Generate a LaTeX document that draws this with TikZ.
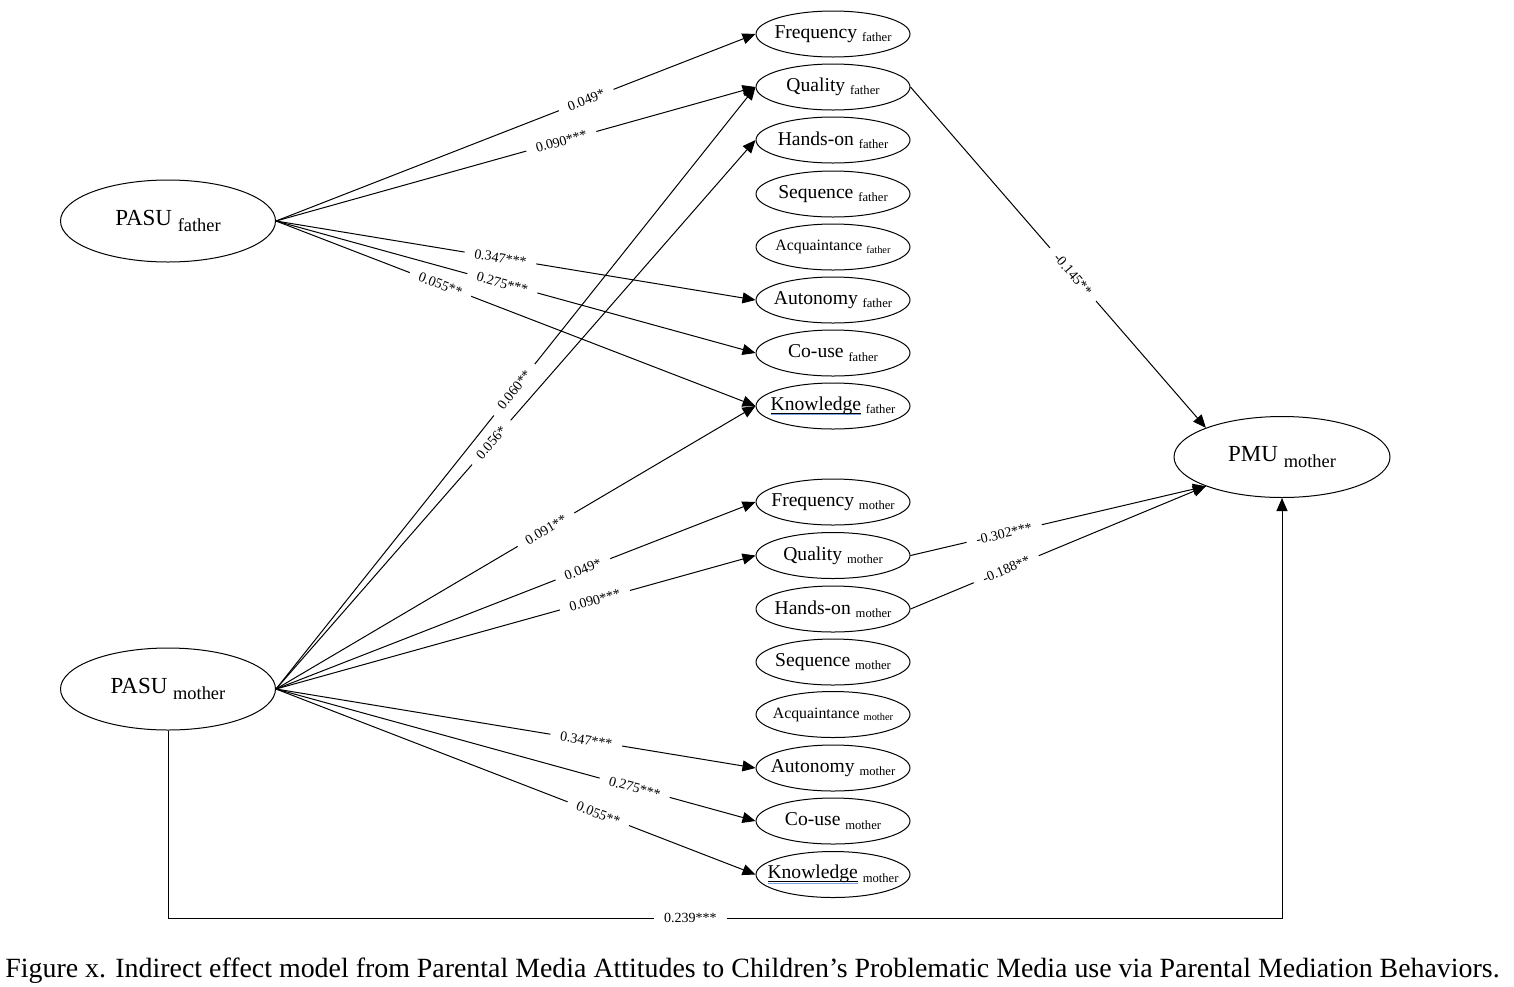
\documentclass[tikz,border=0pt]{standalone}
\usepackage{fontspec}
\setmainfont{Liberation Serif}
\usepackage{graphicx}
\usetikzlibrary{arrows.meta,shapes.geometric}
\definecolor{ulblue}{RGB}{120,160,230}
\newsavebox\kbox
\newcommand\kunder[1]{\sbox\kbox{#1}\leavevmode\rlap{\raisebox{-1.5pt}{\rule{\wd\kbox}{0.3pt}}}\rlap{\color{ulblue}\raisebox{-2.5pt}{\rule{\wd\kbox}{0.6pt}}}\usebox\kbox}
\newcommand\med[2]{\makebox[0pt]{\fontsize{9.8}{11}\selectfont #1\ \raisebox{-1.6pt}{\fontsize{6.3}{7}\selectfont #2}}}
\newcommand\medsm[2]{\makebox[0pt]{\fontsize{7.9}{9}\selectfont #1\ \raisebox{-1.4pt}{\fontsize{5.2}{6}\selectfont #2}}}
\newcommand\bigt[2]{\makebox[0pt]{\fontsize{11.5}{13}\selectfont #1\ \raisebox{-3pt}{\fontsize{9.2}{10}\selectfont #2}}}
\begin{document}
\begin{tikzpicture}[x=0.5pt,y=-0.5pt,
  med/.style={ellipse,draw,line width=0.5pt,minimum width=77pt,minimum height=23pt,inner sep=0pt},
  bigell/.style={ellipse,draw,line width=0.5pt,minimum width=107.5pt,minimum height=41pt,inner sep=0pt},
  arr/.style={line width=0.5pt,-{Triangle[length=6.5pt,width=5.5pt]}},
  lbl/.style={sloped,fill=white,inner xsep=5pt,inner ysep=1pt,font=\fontsize{7}{8}\selectfont}]
\useasboundingbox (0,0) rectangle (1514,986);

% main nodes
\node[bigell] (pf) at (168,221) {\bigt{PASU}{father}};
\node[bigell] (pm) at (168,689) {\bigt{PASU}{mother}};
\node[bigell,minimum width=108pt,minimum height=40.5pt] (pmu) at (1282,457) {\bigt{PMU}{mother}};

% father mediators
\node[med] (f1) at (833,34) {\med{Frequency}{father}};
\node[med] (f2) at (833,87) {\med{Quality}{father}};
\node[med] (f3) at (833,140) {\med{Hands-on}{father}};
\node[med] (f4) at (833,194) {\med{Sequence}{father}};
\node[med] (f5) at (833,247) {\medsm{Acquaintance}{father}};
\node[med] (f6) at (833,300) {\med{Autonomy}{father}};
\node[med] (f7) at (833,353) {\med{Co-use}{father}};
\node[med] (f8) at (833,406) {\med{\kunder{Knowledge}}{father}};

% mother mediators
\node[med] (m1) at (833,502) {\med{Frequency}{mother}};
\node[med] (m2) at (833,555.5) {\med{Quality}{mother}};
\node[med] (m3) at (833,609) {\med{Hands-on}{mother}};
\node[med] (m4) at (833,662) {\med{Sequence}{mother}};
\node[med] (m5) at (833,714.5) {\medsm{Acquaintance}{mother}};
\node[med] (m6) at (833,768) {\med{Autonomy}{mother}};
\node[med] (m7) at (833,821) {\med{Co-use}{mother}};
\node[med] (m8) at (833,874.5) {\med{\kunder{Knowledge}}{mother}};

% PASU father edges
\draw[arr] (pf.east) -- node[lbl,pos=0.647]{0.049*} (f1.west);
\draw[arr] (pf.east) -- node[lbl,pos=0.595]{0.090***} (f2.west);
\draw[arr] (pf.east) -- node[lbl,pos=0.468]{0.347***} (f6.west);
\draw[arr] (pf.east) -- node[lbl,pos=0.472]{0.275***} (f7.west);
\draw[arr] (pf.east) -- node[lbl,pos=0.343]{0.055**} (f8.west);

% PASU mother edges to father mediators
\draw[arr] (pm.east) -- node[lbl,pos=0.497]{0.060**} (f2.west);
\draw[arr] (pm.east) -- node[lbl,pos=0.449]{0.056*} (f3.west);
\draw[arr] (pm.east) -- node[lbl,pos=0.563]{0.091**} (f8.west);

% PASU mother edges to mother mediators
\draw[arr] (pm.east) -- node[lbl,pos=0.64]{0.049*} (m1.west);
\draw[arr] (pm.east) -- node[lbl,pos=0.665]{0.090***} (m2.west);
\draw[arr] (pm.east) -- node[lbl,pos=0.647]{0.347***} (m6.west);
\draw[arr] (pm.east) -- node[lbl,pos=0.748]{0.275***} (m7.west);
\draw[arr] (pm.east) -- node[lbl,pos=0.672]{0.055**} (m8.west);

% mediators to PMU
\draw[arr] (f2.east) -- node[lbl,pos=0.55]{-0.145**} (pmu.159);
\draw[arr] (m2.east) -- node[lbl,pos=0.317]{-0.302***} (pmu.201);
\draw[arr] (m3.east) -- node[lbl,pos=0.324]{-0.188**} (pmu.201);

% direct effect
\coordinate (c1) at (168,918);
\coordinate (c2) at (1282,918);
\draw[arr] (pm.south) -- (c1) -- node[lbl,pos=0.469]{0.239***} (c2) -- (pmu.south);

% caption
\node[anchor=base,inner sep=0pt] (cap) at (752.5,977) {\resizebox{747pt}{9.8pt}{\fontsize{14}{16}\selectfont Figure x. Indirect effect model from Parental Media Attitudes to Children’s Problematic Media use via Parental Mediation Behaviors.}};
\end{tikzpicture}
\end{document}
